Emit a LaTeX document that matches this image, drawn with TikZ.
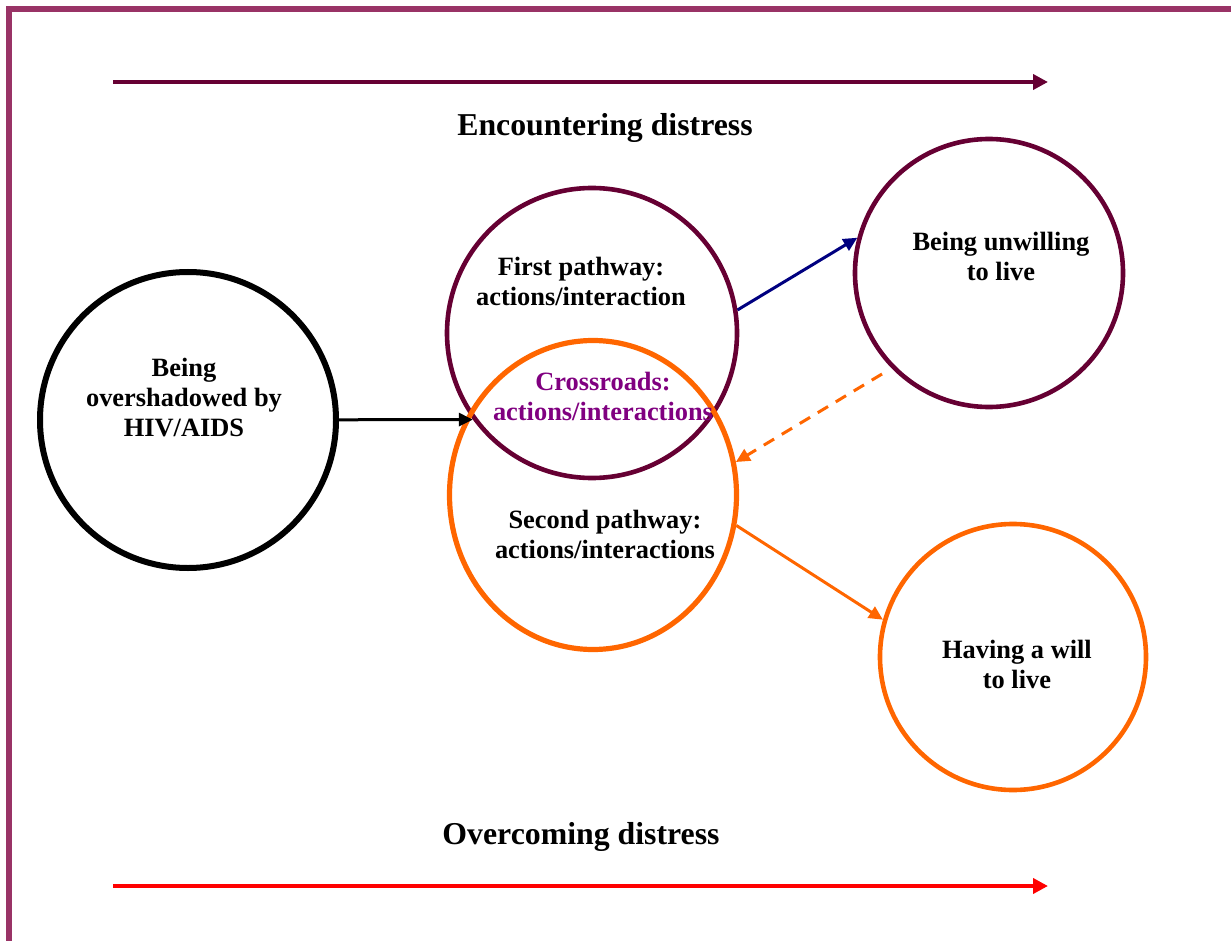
\documentclass[tikz,border=0pt]{standalone}
\usepackage{fontspec}
\setmainfont{Liberation Serif}
\usepackage{xcolor}
\usetikzlibrary{arrows.meta,positioning,shapes.geometric}

\definecolor{wine}{HTML}{660033}
\definecolor{frame}{HTML}{993366}
\definecolor{navyblue}{HTML}{000080}
\definecolor{tangerine}{HTML}{FF6600}
\definecolor{plum}{HTML}{800080}

\begin{document}
\begin{tikzpicture}[
    x=0.5pt, y=-0.5pt,
    stage/.style={circle, draw, line width=2.3pt, inner sep=0pt},
    caption/.style={align=center, font=\bfseries\fontsize{13.2}{15}\selectfont},
    heading/.style={font=\bfseries\fontsize{15.9}{18}\selectfont},
    flow/.style={line width=1.5pt, -{Triangle[length=7pt,width=6.5pt]}},
    band/.style={line width=2pt, -{Triangle[length=7.5pt,width=7.5pt]}}
]
\useasboundingbox (0,0) rectangle (1231,941);

% Frame (only left and top edges show)
\draw[frame, line width=3pt] (9,960) -- (9,9) -- (1250,9);

% Circles
\node[stage, line width=3pt, minimum size=148pt] (shadow) at (188,420) {};
\node[stage, wine, minimum size=145pt] (first) at (592,333) {};
\node[stage, ellipse, tangerine, line width=2.6pt, minimum width=143.5pt, minimum height=154.5pt] (second) at (593,495) {};
\node[stage, wine, minimum size=134pt] (unwill) at (989,273) {};
\node[stage, tangerine, minimum size=133pt] (will) at (1013,657) {};

% Texts
\node[caption] (shadow-txt) at (184,398) {Being\\overshadowed by\\HIV/AIDS};
\node[caption] (first-txt) at (581,281) {First pathway:\\actions/interaction};
\node[caption, plum] (cross-txt) at (603,396) {Crossroads:\\actions/interactions};
\node[caption] (second-txt) at (605,534) {Second pathway:\\actions/interactions};
\node[caption] (unwill-txt) at (1001,256) {Being unwilling\\to live};
\node[caption] (will-txt) at (1017,664) {Having a will\\to live};

% Bands
\coordinate (enc-a) at (113,82);
\coordinate (enc-b) at (1048,82);
\coordinate (over-a) at (113,886);
\coordinate (over-b) at (1048,886);
\draw[band, wine] (enc-a) -- (enc-b);
\draw[band, red] (over-a) -- (over-b);
\node[heading] (enc-txt) at (605,128) {Encountering distress};
\node[heading] (over-txt) at (581,837) {Overcoming distress};

% Arrows
\coordinate (dash-start) at (882,374);
\draw[flow] (shadow) -- (first.216);
\draw[flow, navyblue] (first.9) -- (unwill.165);
\draw[flow, tangerine, dash pattern=on 6pt off 4.5pt] (dash-start) -- (second.13);
\draw[flow, tangerine] (second.-12) -- (will.164);

\end{tikzpicture}
\end{document}
